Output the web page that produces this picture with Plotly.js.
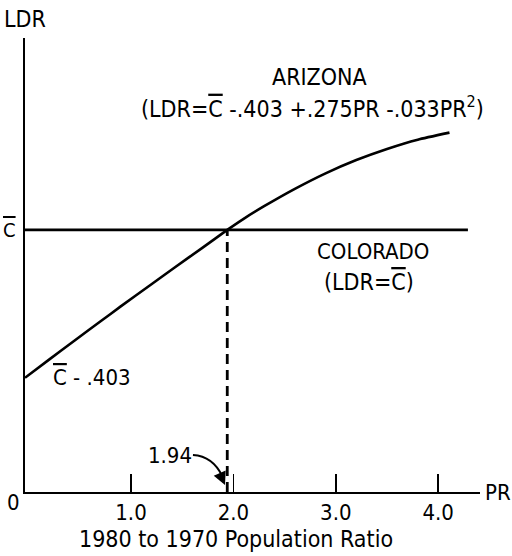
<!DOCTYPE html>
<html>
<head>
<meta charset="utf-8">
<script src="https://cdn.plot.ly/plotly-3.0.1.min.js"></script>
<style>html,body{margin:0;padding:0;background:#fff;}#chart{width:512px;height:556px;}</style>
</head>
<body>
<div id="chart"></div>
<script>
// Arizona curve: PR values and LDR relative to C-bar
const arizonaPR  = [-0.035, 0.2, 0.45, 0.7, 0.9, 1.2, 1.43, 1.7, 1.94, 2.1, 2.3, 2.6, 2.9, 3.2, 3.5, 3.8, 4.11];
const arizonaLDR = [-0.400, -0.351, -0.299, -0.248, -0.207, -0.147, -0.101, -0.048, 0.000, 0.030, 0.064, 0.111, 0.153, 0.189, 0.219, 0.244, 0.263];
// Colorado: LDR = C-bar
const coloradoPR  = [-0.035, 4.29];
const coloradoLDR = [0, 0];
// Crossing point
const crossPR = [1.94, 1.94];
const crossLDR = [-0.709, 0];
// Tick labels
const tickVals = [1, 2, 3, 4];
const tickText = ["1.0", "2.0", "3.0", "4.0"];

const FONT = "DejaVu Sans Condensed, Liberation Sans Narrow, sans-serif";
const CB = '<span style="text-decoration:overline">C</span>';

const traces = [
  {x: arizonaPR, y: arizonaLDR, mode: 'lines', line: {color: '#000', width: 2.6, shape: 'spline', smoothing: 0.5}, hoverinfo: 'skip'},
  {x: coloradoPR, y: coloradoLDR, mode: 'lines', line: {color: '#000', width: 2.6}, hoverinfo: 'skip'},
  {x: crossPR, y: crossLDR, mode: 'lines', line: {color: '#000', width: 2.8, dash: '10px,6px'}, hoverinfo: 'skip'}
];

function ann(text, x, y, size, ref) {
  return {text: text, x: x, y: y, xref: ref || 'x', yref: ref || 'y', showarrow: false,
    xanchor: 'center', yanchor: 'middle', font: {family: FONT, size: size, color: '#000'}};
}

const layout = {
  width: 512, height: 556,
  margin: {l: 25, r: 32, t: 38, b: 64},
  paper_bgcolor: '#fff', plot_bgcolor: '#fff',
  showlegend: false,
  font: {family: FONT, color: '#000'},
  xaxis: {
    range: [-0.035, 4.408], showgrid: false, zeroline: false,
    showline: true, linecolor: '#000', linewidth: 2,
    ticks: 'inside', ticklen: 18, tickwidth: 1.6, tickcolor: '#000',
    tickvals: tickVals, ticktext: tickText,
    tickfont: {family: FONT, size: 22, color: '#000'}
  },
  yaxis: {
    range: [-0.709, 0.519], showgrid: false, zeroline: false,
    showline: true, linecolor: '#000', linewidth: 2,
    ticks: '', showticklabels: false
  },
  shapes: [
    {type: 'path', xref: 'x', yref: 'y', path: 'M 1.605 -0.609 Q 1.80 -0.612 1.895 -0.668',
     line: {color: '#000', width: 2}}
  ],
  annotations: [
    ann('LDR', 0.0, 1.042, 23, 'paper'),
    ann(CB, -0.033, 0.577, 20, 'paper'),
    ann('0', -0.026, -0.024, 22, 'paper'),
    ann('PR', 1.040, -0.002, 22, 'paper'),
    ann('1980 to 1970 Population Ratio', 0.464, -0.1035, 23, 'paper'),
    ann('ARIZONA', 2.836, 0.4125, 23),
    ann('(LDR=' + CB + ' -.403 +.275PR -.033PR<sup>2</sup>)', 2.777, 0.333, 23),
    ann('COLORADO', 3.363, -0.058, 22),
    ann('(LDR=' + CB + ')', 3.324, -0.141, 23),
    ann(CB + ' - .403', 0.619, -0.400, 22),
    ann('1.94', 1.381, -0.609, 22),
    {x: 1.918, y: -0.690, xref: 'x', yref: 'y', ax: -4, ay: -9, text: '', showarrow: true,
     arrowhead: 2, arrowsize: 1.3, arrowwidth: 2, arrowcolor: '#000', standoff: 0}
  ]
};

Plotly.newPlot('chart', traces, layout, {staticPlot: true, displayModeBar: false});
</script>
</body>
</html>
